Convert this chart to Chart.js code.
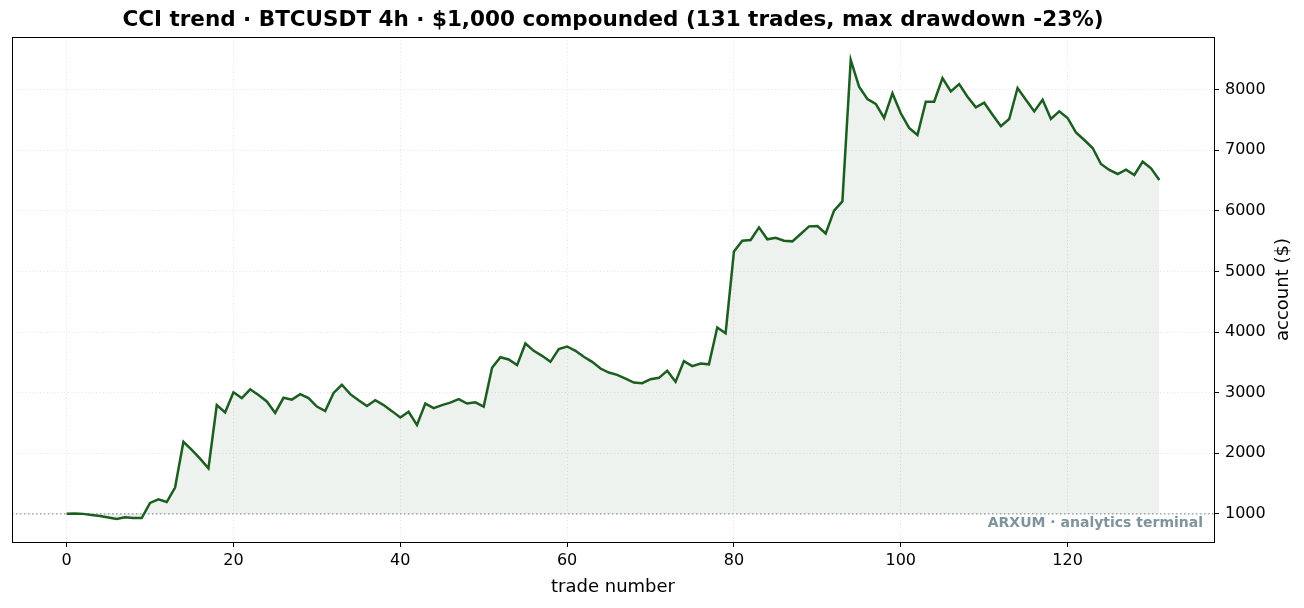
<!DOCTYPE html>
<html>
<head>
<meta charset="utf-8">
<script src="https://cdn.jsdelivr.net/npm/chart.js@4.4.1/dist/chart.umd.min.js"></script>
<style>
  html, body { margin: 0; padding: 0; background: #fff; }
  #wrap { width: 1304px; height: 608px; position: relative; }
</style>
</head>
<body>
<div id="wrap"><canvas id="myChart"></canvas></div>
<script>
const titleText = 'CCI trend · BTCUSDT 4h · $1,000 compounded (131 trades, max drawdown -23%)';
const xLabel = 'trade number';
const yLabel = 'account ($)';
const watermark = 'ARXUM · analytics terminal';
const startCapital = 1000;

// account value after each trade (trade 0 = starting capital)
const equity = [
  1000, 1005, 1000, 980, 965, 940, 915, 945, 930, 930,
  1180, 1240, 1195, 1435, 2190, 2055, 1910, 1750, 2795, 2675,
  3005, 2910, 3055, 2960, 2855, 2665, 2915, 2885, 2975, 2910,
  2770, 2695, 2995, 3130, 2975, 2875, 2780, 2875, 2795, 2695,
  2590, 2685, 2465, 2820, 2745, 2795, 2835, 2893, 2820, 2840,
  2770, 3410, 3585, 3547, 3454, 3811, 3690, 3607, 3508, 3718,
  3761, 3690, 3591, 3508, 3398, 3332, 3294, 3233, 3167, 3156,
  3222, 3244, 3360, 3178, 3520, 3437, 3480, 3467, 4075, 3980,
  5330, 5507, 5518, 5726, 5529, 5556, 5507, 5496, 5617, 5743,
  5749, 5625, 6002, 6155, 8488, 8047, 7844, 7762, 7531, 7938,
  7608, 7366, 7250, 7800, 7800, 8190, 7970, 8091, 7882, 7706,
  7783, 7585, 7395, 7514, 8025, 7833, 7640, 7833, 7514, 7640,
  7531, 7294, 7168, 7036, 6772, 6673, 6607, 6678, 6590, 6810,
  6700, 6507
];
const trades = equity.map((v, i) => i);
const xTicks = [0, 20, 40, 60, 80, 100, 120];
const yTicks = [1000, 2000, 3000, 4000, 5000, 6000, 7000, 8000];

const FONT = "'DejaVu Sans', sans-serif";
const lineColor = '#1b5e20';

// matplotlib-like extras: title, axis box, y label on the right, baseline, watermark
const decor = {
  id: 'decor',
  beforeDatasetsDraw(chart) {
    const { ctx, chartArea: a, scales } = chart;
    const y0 = scales.y.getPixelForValue(startCapital);
    ctx.save();
    ctx.strokeStyle = '#8c9c9c';
    ctx.lineWidth = 1.2;
    ctx.setLineDash([1.5, 2.5]);
    ctx.beginPath();
    ctx.moveTo(a.left, y0);
    ctx.lineTo(a.right, y0);
    ctx.stroke();
    ctx.restore();
  },
  afterDraw(chart) {
    const { ctx, chartArea: a } = chart;
    ctx.save();
    ctx.strokeStyle = '#000';
    ctx.lineWidth = 1;
    ctx.strokeRect(Math.round(a.left) + 0.5, Math.round(a.top) + 0.5,
      Math.round(a.right - a.left), Math.round(a.bottom - a.top));

    ctx.fillStyle = '#000';
    ctx.textAlign = 'center';
    ctx.textBaseline = 'middle';
    ctx.font = 'bold 21.5px ' + FONT;
    ctx.fillText(titleText, (a.left + a.right) / 2, 20);

    ctx.font = '18px ' + FONT;
    ctx.fillText(xLabel, (a.left + a.right) / 2, 587);

    ctx.save();
    ctx.translate(1283, (a.top + a.bottom) / 2);
    ctx.rotate(-Math.PI / 2);
    ctx.fillText(yLabel, 0, 0);
    ctx.restore();

    ctx.font = 'bold 14px ' + FONT;
    ctx.fillStyle = '#7f939c';
    ctx.textAlign = 'right';
    ctx.fillText(watermark, a.right - 11, a.bottom - 19);
    ctx.restore();
  }
};

const ctx = document.getElementById('myChart');

const myChart = new Chart(ctx, {
  type: 'line',
  data: {
    datasets: [
      {
        label: 'account',
        data: trades.map((t, i) => ({ x: t, y: equity[i] })),
        borderColor: lineColor,
        borderWidth: 2.5,
        backgroundColor: 'rgba(27, 94, 32, 0.08)',
        fill: { value: startCapital },
        pointRadius: 0,
        tension: 0,
      }
    ]
  },
  options: {
    responsive: true,
    maintainAspectRatio: false,
    animation: false,
    layout: { padding: { left: 12, top: 37, right: 0, bottom: 0 } },
    plugins: {
      legend: { display: false },
      tooltip: { enabled: false },
    },
    scales: {
      x: {
        type: 'linear',
        min: -6.55,
        max: 137.55,
        afterFit: (s) => { s.height = 66; },
        afterBuildTicks: (s) => { s.ticks = xTicks.map(v => ({ value: v })); },
        grid: { color: '#e3e3e3', lineWidth: 1, tickLength: 5, tickColor: '#000', tickWidth: 1 },
        border: { display: true, color: '#000', width: 1, dash: [1, 2.5] },
        ticks: { color: '#000', font: { family: FONT, size: 16 }, padding: 4, maxRotation: 0,
          callback: (v) => String(v) },
      },
      y: {
        position: 'right',
        min: 536,
        max: 8867,
        afterFit: (s) => { s.width = 90; },
        afterBuildTicks: (s) => { s.ticks = yTicks.map(v => ({ value: v })); },
        grid: { color: '#e3e3e3', lineWidth: 1, tickLength: 5, tickColor: '#000', tickWidth: 1 },
        border: { display: true, color: '#000', width: 1, dash: [1, 2.5] },
        ticks: { color: '#000', font: { family: FONT, size: 16 }, padding: 6,
          callback: (v) => String(v) },
      }
    }
  },
  plugins: [decor]
});
</script>
</body>
</html>
